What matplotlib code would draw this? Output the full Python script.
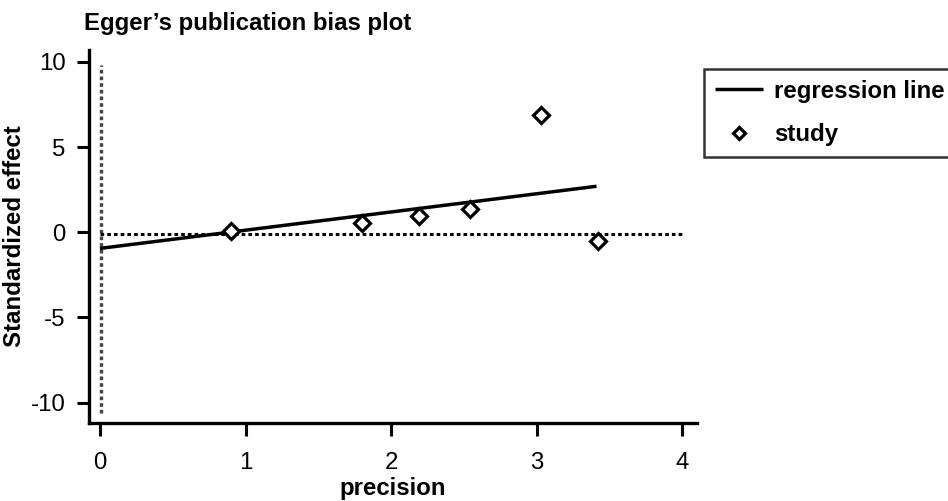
import numpy as np
import matplotlib
matplotlib.use("Agg")
import matplotlib.pyplot as plt

# study points
precision = [0.90, 1.80, 2.19, 2.54, 3.03, 3.42]
std_effect = [0.10, 0.55, 0.95, 1.35, 6.90, -0.50]

# regression line (intercept, slope) and its x range
reg_intercept = -0.95
reg_slope = 1.07
reg_x = [0.0, 3.41]

# reference lines
hline_y = -0.1
hline_x = [0.0, 4.0]
vline_x = 0.01
vline_y = [-10.6, 9.8]

xticks = [0, 1, 2, 3, 4]
yticks = [-10, -5, 0, 5, 10]

plt.rcParams['font.family'] = ['Liberation Sans', 'DejaVu Sans']
plt.rcParams['axes.unicode_minus'] = False
fs = 17.3

fig = plt.figure(figsize=(9.48, 5.01), dpi=100)
ax = fig.add_axes([89 / 948, 1 - 423 / 501, (697 - 89) / 948, (423 - 50) / 501])

ax.plot(vline_x * np.ones(2), vline_y, color='#444444', lw=2.4,
        linestyle=(0, (1.1, 0.9)), dash_capstyle='butt')
ax.plot(hline_x, [hline_y, hline_y], color='black', lw=2.2,
        linestyle=(0, (1.2, 1.0)), dash_capstyle='butt')

rx = np.array(reg_x)
ax.plot(rx, reg_intercept + reg_slope * rx, color='black', lw=2.5,
        label='regression line', solid_capstyle='butt')
ax.plot(precision, std_effect, linestyle='none', marker='D', ms=8,
        mfc='white', mec='black', mew=2.3, label='study')

ax.set_xlim(-0.075, 4.1)
ax.set_ylim(-11.2, 10.7)
ax.set_xticks(xticks)
ax.set_yticks(yticks)

for s in ['top', 'right']:
    ax.spines[s].set_visible(False)
for s in ['left', 'bottom']:
    ax.spines[s].set_linewidth(2.4)
ax.tick_params(width=2.2, length=9, labelsize=fs)
ax.tick_params(axis='x', pad=12)
ax.tick_params(axis='y', pad=8)

ax.set_xlabel('precision', fontsize=fs, fontweight='bold', labelpad=2)
ax.set_ylabel('Standardized effect', fontsize=fs, fontweight='bold')
ax.yaxis.set_label_coords((26 - 89) / 608, 0.5)
fig.text(84 / 948, 1 - 30 / 501, 'Egger\u2019s publication bias plot',
         fontsize=fs, fontweight='bold', va='baseline', ha='left')

leg = fig.legend(loc='upper left', bbox_to_anchor=(704 / 948, 1 - 69 / 501),
                 frameon=True, fancybox=False, edgecolor='black',
                 prop={'weight': 'bold', 'size': fs}, handlelength=2.0,
                 handletextpad=0.45, borderpad=0.45, labelspacing=0.85,
                 borderaxespad=0, markerscale=0.75)
leg.get_frame().set_linewidth(1.8)

fig.savefig('out.png', dpi=100)
